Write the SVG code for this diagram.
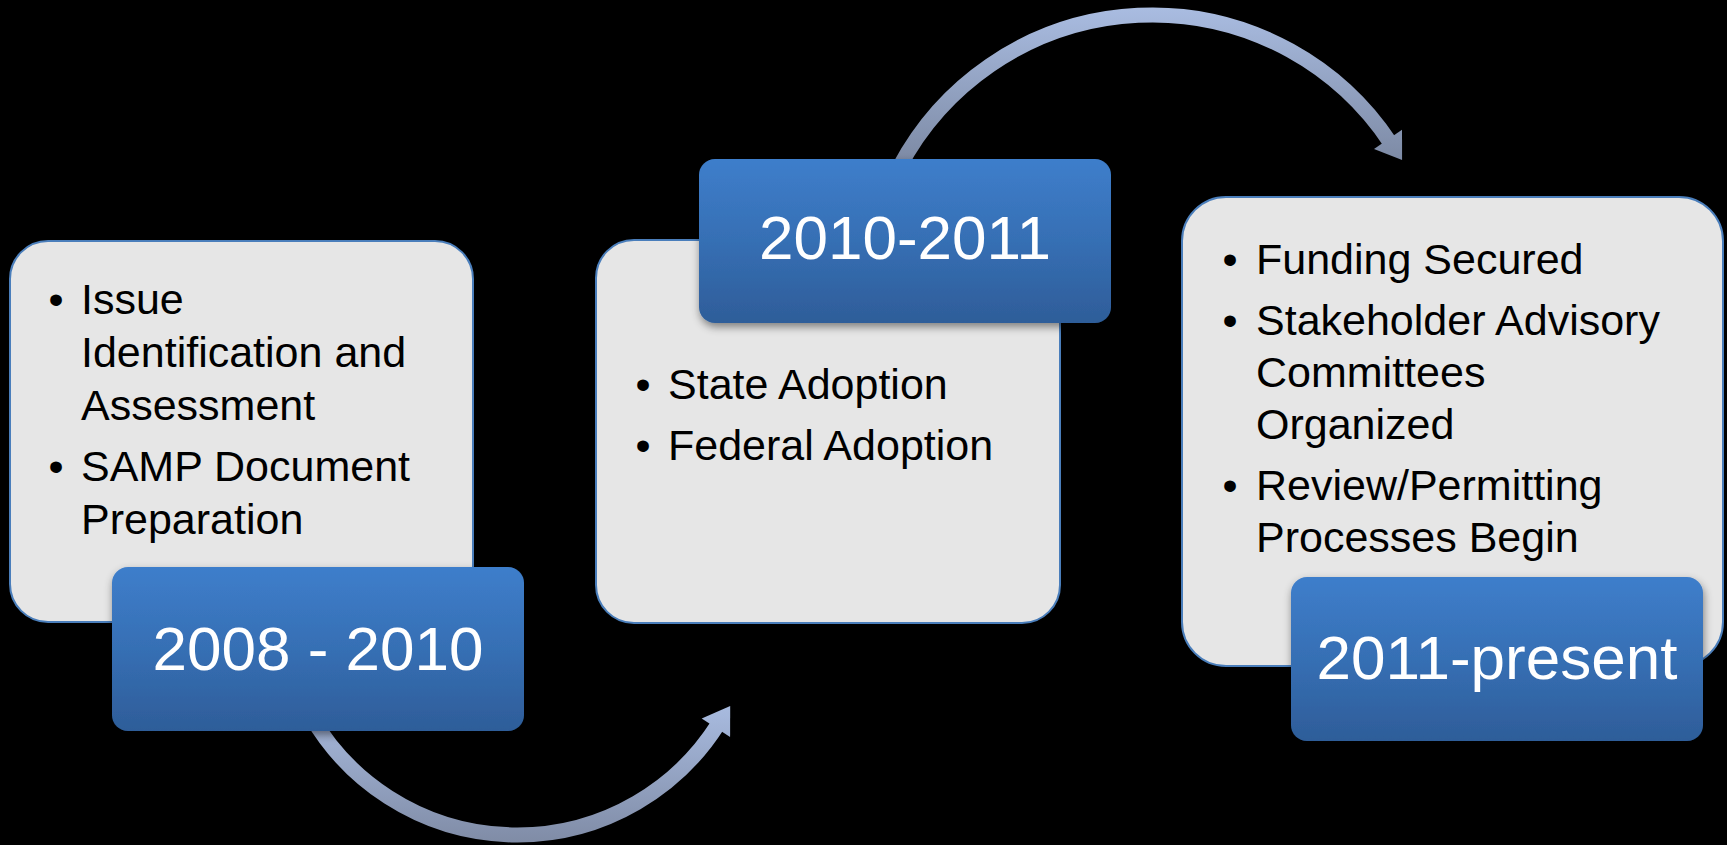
<svg xmlns="http://www.w3.org/2000/svg" width="1727" height="845" viewBox="0 0 1727 845">
  <style>
    .card { fill: #E6E6E6; stroke: #4A7EBB; stroke-width: 2; }
    .label { fill: url(#blueGrad); filter: url(#shadow); }
    .body { font-family: "Liberation Sans", Arial, sans-serif; font-size: 43px; fill: #000000; }
    .bullet { font-family: "Liberation Sans", Arial, sans-serif; font-size: 43px; fill: #000000; text-anchor: middle; }
    .year { font-family: "Liberation Sans", Arial, sans-serif; font-size: 62px; fill: #FFFFFF; text-anchor: middle; }
    .band { fill: none; stroke-width: 15; }
  </style>
  <defs>
    <linearGradient id="blueGrad" x1="0" y1="0" x2="0" y2="1">
      <stop offset="0" stop-color="#3E7ECB"/>
      <stop offset="0.5" stop-color="#366FB4"/>
      <stop offset="1" stop-color="#2E5D99"/>
    </linearGradient>
    <linearGradient id="arcGrad1" gradientUnits="userSpaceOnUse" x1="0" y1="700" x2="0" y2="845">
      <stop offset="0" stop-color="#AABDE2"/>
      <stop offset="1" stop-color="#7F8BA5"/>
    </linearGradient>
    <linearGradient id="arcGrad2" gradientUnits="userSpaceOnUse" x1="0" y1="5" x2="0" y2="168">
      <stop offset="0" stop-color="#AABDE2"/>
      <stop offset="1" stop-color="#7B88A2"/>
    </linearGradient>
    <filter id="shadow" x="-10%" y="-10%" width="120%" height="130%">
      <feDropShadow dx="1" dy="4" stdDeviation="4" flood-color="#000000" flood-opacity="0.45"/>
    </filter>
  </defs>
  <rect x="0" y="0" width="1727" height="845" fill="#000000"/>

  <g id="connectors">
    <g id="arrow-1-2">
      <path class="band" stroke="url(#arcGrad1)" d="M310.9,716 A238,238 0 0 0 717.7,724.9"/>
      <polygon fill="url(#arcGrad1)" points="730.2,706 730.1,737.0 701.7,718.4"/>
    </g>
    <g id="arrow-2-3">
      <path class="band" stroke="url(#arcGrad2)" d="M899.5,166.7 A286,286 0 0 1 1390.2,142.6"/>
      <polygon fill="url(#arcGrad2)" points="1402.1,160.0 1402.0,129.8 1374.0,149.0"/>
    </g>
  </g>

  <g id="stage-2008-2010">
    <rect class="card" x="10" y="241" width="463" height="381" rx="38" ry="38"/>
    <text class="bullet" x="56" y="314">•</text>
    <text class="body" x="81" y="314">Issue</text>
    <text class="body" x="81" y="367">Identification and</text>
    <text class="body" x="81" y="420">Assessment</text>
    <text class="bullet" x="56" y="481">•</text>
    <text class="body" x="81" y="481">SAMP Document</text>
    <text class="body" x="81" y="534">Preparation</text>
    <rect class="label" x="112" y="567" width="412" height="164" rx="16" ry="16"/>
    <text class="year" x="318" y="670">2008 - 2010</text>
  </g>

  <g id="stage-2010-2011">
    <rect class="card" x="596" y="240" width="464" height="383" rx="38" ry="38"/>
    <text class="bullet" x="643" y="399">•</text>
    <text class="body" x="668" y="399">State Adoption</text>
    <text class="bullet" x="643" y="460">•</text>
    <text class="body" x="668" y="460">Federal Adoption</text>
    <rect class="label" x="699" y="159" width="412" height="164" rx="16" ry="16"/>
    <text class="year" x="905" y="259">2010-2011</text>
  </g>

  <g id="stage-2011-present">
    <rect class="card" x="1182" y="197" width="541" height="469" rx="44" ry="44"/>
    <text class="bullet" x="1230" y="274">•</text>
    <text class="body" x="1256" y="274">Funding Secured</text>
    <text class="bullet" x="1230" y="335">•</text>
    <text class="body" x="1256" y="335">Stakeholder Advisory</text>
    <text class="body" x="1256" y="387">Committees</text>
    <text class="body" x="1256" y="439">Organized</text>
    <text class="bullet" x="1230" y="500">•</text>
    <text class="body" x="1256" y="500">Review/Permitting</text>
    <text class="body" x="1256" y="552">Processes Begin</text>
    <rect class="label" x="1291" y="577" width="412" height="164" rx="16" ry="16"/>
    <text class="year" x="1497" y="679">2011-present</text>
  </g>
</svg>
